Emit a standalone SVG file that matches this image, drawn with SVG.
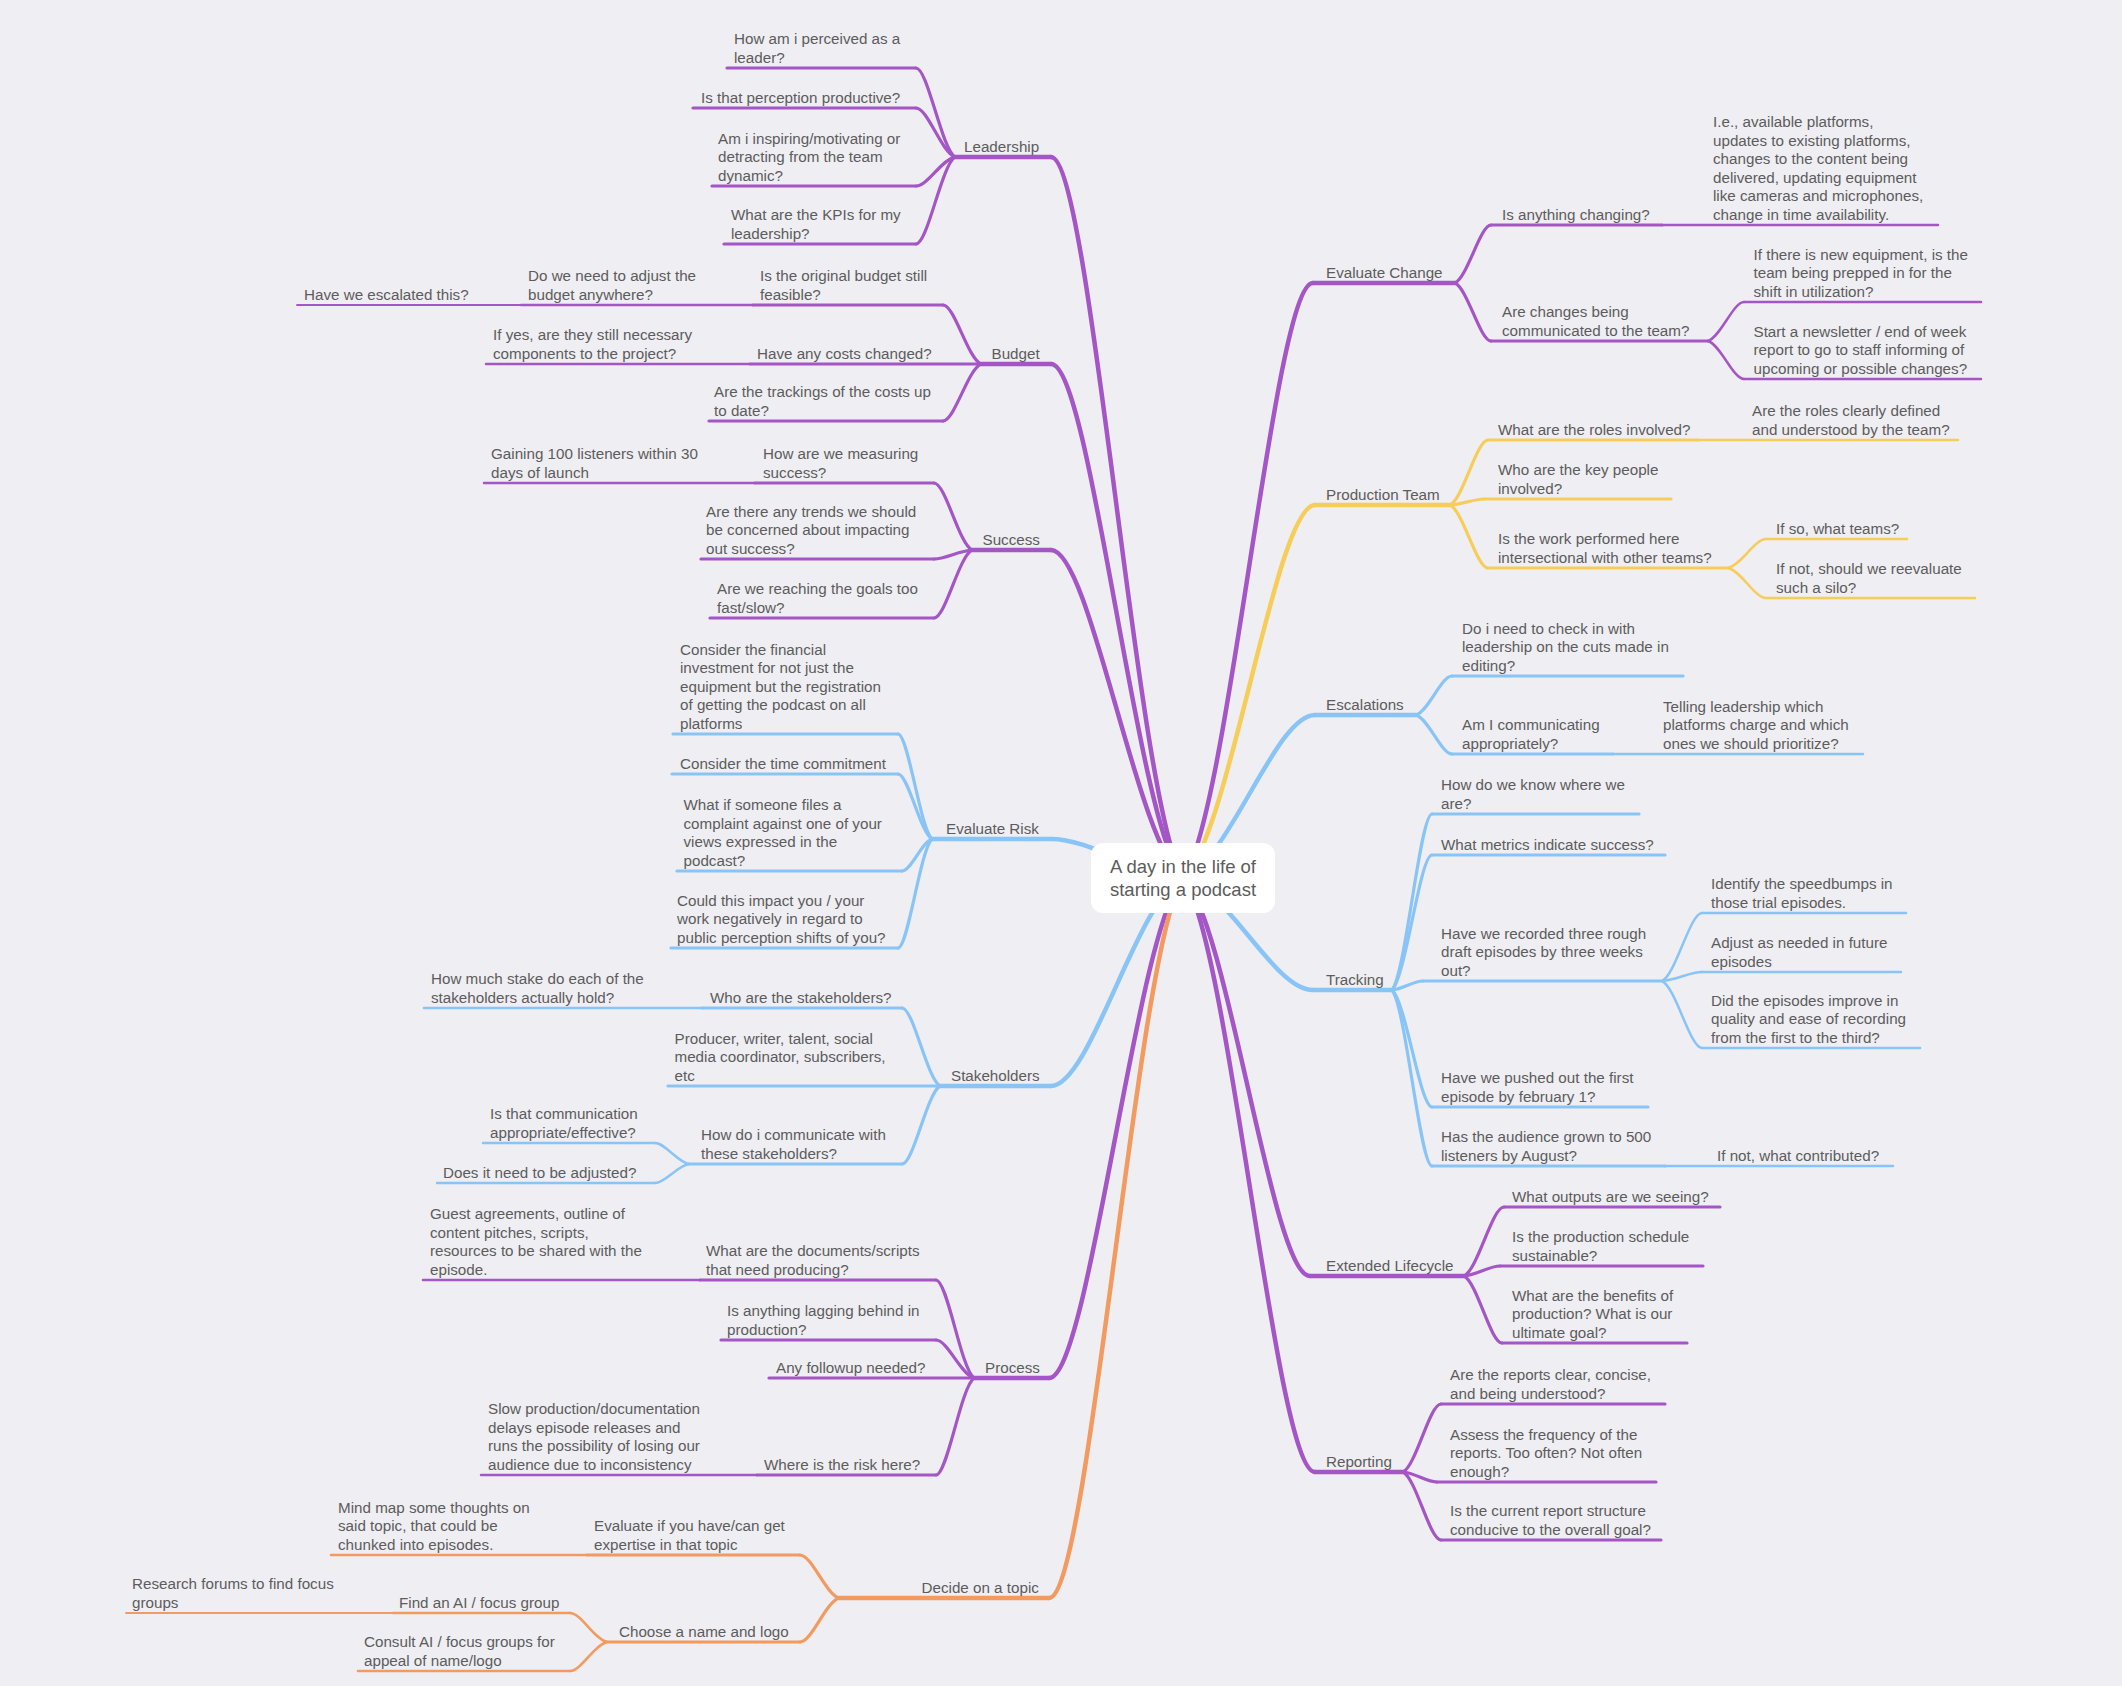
<svg xmlns="http://www.w3.org/2000/svg" width="2122" height="1686" viewBox="0 0 2122 1686">
<style>
text{font-family:"Liberation Sans",Arial,sans-serif;font-size:15.2px;fill:#5c5c5c}
.ct{font-size:18.5px;text-anchor:middle}
path{fill:none;stroke-linecap:round;stroke-linejoin:round}
.p{stroke:#a455c6}.b{stroke:#89c4f7}.y{stroke:#f7cd5a}.o{stroke:#f29a5f}
.w1{stroke-width:4.5}.w2{stroke-width:3.2}.w3{stroke-width:2.5}.w4{stroke-width:1.8}
</style>
<rect width="2122" height="1686" fill="#efeef3"/>
<g id="connectors">
<path class="p w1" d="M1183 878c-46.2 -72.1 -92.4 -721 -132 -721"/>
<path class="p w1" d="M1183 878c-46.2 -51.4 -92.4 -514 -132 -514"/>
<path class="p w1" d="M1183 878c-46.2 -32.8 -92.4 -328 -132 -328"/>
<path class="b w1" d="M1183 878c-46.2 -3.9 -92.4 -39 -132 -39"/>
<path class="b w1" d="M1183 878c-46.2 20.8 -92.4 208 -132 208"/>
<path class="p w1" d="M1183 878c-46.9 50 -93.8 500 -134 500"/>
<path class="o w1" d="M1183 878c-46.9 72 -93.8 720 -134 720"/>
<path class="p w1" d="M1183 878c45.5 -59.5 91 -595 130 -595"/>
<path class="y w1" d="M1183 878c46.2 -37.3 92.4 -373 132 -373"/>
<path class="b w1" d="M1183 878c46.2 -16.3 92.4 -163 132 -163"/>
<path class="b w1" d="M1183 878c45.5 11.2 91 112 130 112"/>
<path class="p w1" d="M1183 878c44.45 39.8 88.9 398 127 398"/>
<path class="p w1" d="M1183 878c46.2 59.4 92.4 594 132 594"/>
<path class="p w2" d="M955 157c-13.65 -8.9 -27.3 -89 -39 -89"/>
<path class="p w2" d="M955 157c-13.65 -4.9 -27.3 -49 -39 -49"/>
<path class="p w2" d="M955 157c-13.65 2.9 -27.3 29 -39 29"/>
<path class="p w2" d="M955 157c-13.65 8.7 -27.3 87 -39 87"/>
<path class="p w2" d="M981 364c-13.3 -5.9 -26.6 -59 -38 -59"/>
<path class="p w2" d="M981 364c-13.3 5.7 -26.6 57 -38 57"/>
<path class="p w2" d="M972 550c-13.3 -6.7 -26.6 -67 -38 -67"/>
<path class="p w2" d="M972 550c-13.3 0.9 -26.6 9 -38 9"/>
<path class="p w2" d="M972 550c-13.3 6.8 -26.6 68 -38 68"/>
<path class="b w2" d="M932 839c-11.9 -10.5 -23.8 -105 -34 -105"/>
<path class="b w2" d="M932 839c-11.9 -6.5 -23.8 -65 -34 -65"/>
<path class="b w2" d="M932 839c-10.5 3.2 -21 32 -30 32"/>
<path class="b w2" d="M932 839c-11.9 10.9 -23.8 109 -34 109"/>
<path class="b w2" d="M940 1086c-13.3 -7.8 -26.6 -78 -38 -78"/>
<path class="b w2" d="M940 1086c-13.3 7.8 -26.6 78 -38 78"/>
<path class="b w3" d="M689 1164c-11.9 -2.1 -23.8 -21 -34 -21"/>
<path class="b w3" d="M689 1164c-11.9 1.9 -23.8 19 -34 19"/>
<path class="p w2" d="M974 1378c-13.3 -9.8 -26.6 -98 -38 -98"/>
<path class="p w2" d="M974 1378c-13.3 -3.8 -26.6 -38 -38 -38"/>
<path class="p w2" d="M974 1378c-13.3 9.7 -26.6 97 -38 97"/>
<path class="o w2" d="M839 1598c-13.65 -4.3 -27.3 -43 -39 -43"/>
<path class="o w2" d="M839 1598c-13.65 4.4 -27.3 44 -39 44"/>
<path class="o w3" d="M607 1642c-12.95 -2.9 -25.9 -29 -37 -29"/>
<path class="o w3" d="M607 1642c-12.95 2.9 -25.9 29 -37 29"/>
<path class="p w2" d="M1455 283c12.6 -5.8 25.2 -58 36 -58"/>
<path class="p w2" d="M1455 283c12.6 5.8 25.2 58 36 58"/>
<path class="p w3" d="M1708 341c12.6 -3.9 25.2 -39 36 -39"/>
<path class="p w3" d="M1708 341c12.6 3.8 25.2 38 36 38"/>
<path class="y w2" d="M1450 505c13.3 -6.5 26.6 -65 38 -65"/>
<path class="y w2" d="M1450 505c11.9 -0.6 23.8 -6 34 -6"/>
<path class="y w2" d="M1450 505c13.3 6.3 26.6 63 38 63"/>
<path class="y w3" d="M1728 568c13.3 -2.9 26.6 -29 38 -29"/>
<path class="y w3" d="M1728 568c13.3 3 26.6 30 38 30"/>
<path class="b w2" d="M1416 715c12.6 -3.9 25.2 -39 36 -39"/>
<path class="b w2" d="M1416 715c12.6 3.9 25.2 39 36 39"/>
<path class="b w2" d="M1392 990c14 -17.6 28 -176 40 -176"/>
<path class="b w2" d="M1392 990c14 -13.5 28 -135 40 -135"/>
<path class="b w2" d="M1392 990c10.85 -0.9 21.7 -9 31 -9"/>
<path class="b w2" d="M1392 990c14 11.7 28 117 40 117"/>
<path class="b w2" d="M1392 990c14 17.6 28 176 40 176"/>
<path class="b w3" d="M1662 981c14 -6.8 28 -68 40 -68"/>
<path class="b w3" d="M1662 981c14 -0.9 28 -9 40 -9"/>
<path class="b w3" d="M1662 981c14 6.7 28 67 40 67"/>
<path class="p w2" d="M1464 1276c14 -6.9 28 -69 40 -69"/>
<path class="p w2" d="M1464 1276c12.6 -1 25.2 -10 36 -10"/>
<path class="p w2" d="M1464 1276c13.3 6.7 26.6 67 38 67"/>
<path class="p w2" d="M1403 1472c13.3 -6.8 26.6 -68 38 -68"/>
<path class="p w2" d="M1403 1472c11.9 1 23.8 10 34 10"/>
<path class="p w2" d="M1403 1472c13.3 6.8 26.6 68 38 68"/>
</g>
<g id="center">
<rect x="1091" y="843" width="184" height="70" rx="12" fill="#ffffff"/>
<text class="ct"><tspan x="1183" y="873">A day in the life of</tspan><tspan x="1183" y="896">starting a podcast</tspan></text>
</g>
<g id="leadership"><path class="p w1" d="M955 157H1051"/><text x="964" y="151.5">Leadership</text></g>
<g id="l1"><path class="p w2" d="M727 68H916"/><text><tspan x="734" y="44">How am i perceived as a</tspan><tspan x="734" y="62.5">leader?</tspan></text></g>
<g id="l2"><path class="p w2" d="M693 108H916"/><text x="701" y="102.5">Is that perception productive?</text></g>
<g id="l3"><path class="p w2" d="M712 186H916"/><text><tspan x="718" y="143.5">Am i inspiring/motivating or</tspan><tspan x="718" y="162">detracting from the team</tspan><tspan x="718" y="180.5">dynamic?</tspan></text></g>
<g id="l4"><path class="p w2" d="M724 244H916"/><text><tspan x="731" y="220">What are the KPIs for my</tspan><tspan x="731" y="238.5">leadership?</tspan></text></g>
<g id="budget"><path class="p w1" d="M981 364H1051"/><text x="991.5" y="358.5">Budget</text></g>
<g id="b1"><path class="p w2" d="M753 305H943"/><text><tspan x="760" y="281">Is the original budget still</tspan><tspan x="760" y="299.5">feasible?</tspan></text></g>
<g id="b1a"><path class="p w3" d="M521 305H753"/><text><tspan x="528" y="281">Do we need to adjust the</tspan><tspan x="528" y="299.5">budget anywhere?</tspan></text></g>
<g id="b1a1"><path class="p w4" d="M297 305H521"/><text x="304" y="299.5">Have we escalated this?</text></g>
<g id="b2"><path class="p w2" d="M750 364H981"/><text x="757" y="358.5">Have any costs changed?</text></g>
<g id="b2a"><path class="p w3" d="M486 364H750"/><text><tspan x="493" y="340">If yes, are they still necessary</tspan><tspan x="493" y="358.5">components to the project?</tspan></text></g>
<g id="b3"><path class="p w2" d="M709 421H943"/><text><tspan x="714" y="397">Are the trackings of the costs up</tspan><tspan x="714" y="415.5">to date?</tspan></text></g>
<g id="success"><path class="p w1" d="M972 550H1051"/><text x="982.5" y="544.5">Success</text></g>
<g id="s1"><path class="p w2" d="M755 483H934"/><text><tspan x="763" y="459">How are we measuring</tspan><tspan x="763" y="477.5">success?</tspan></text></g>
<g id="s1a"><path class="p w3" d="M484 483H755"/><text><tspan x="491" y="459">Gaining 100 listeners within 30</tspan><tspan x="491" y="477.5">days of launch</tspan></text></g>
<g id="s2"><path class="p w2" d="M701 559H934"/><text><tspan x="706" y="516.5">Are there any trends we should</tspan><tspan x="706" y="535">be concerned about impacting</tspan><tspan x="706" y="553.5">out success?</tspan></text></g>
<g id="s3"><path class="p w2" d="M710 618H934"/><text><tspan x="717" y="594">Are we reaching the goals too</tspan><tspan x="717" y="612.5">fast/slow?</tspan></text></g>
<g id="risk"><path class="b w1" d="M932 839H1051"/><text x="946" y="833.5">Evaluate Risk</text></g>
<g id="r1"><path class="b w2" d="M673 734H898"/><text><tspan x="680" y="654.5">Consider the financial</tspan><tspan x="680" y="673">investment for not just the</tspan><tspan x="680" y="691.5">equipment but the registration</tspan><tspan x="680" y="710">of getting the podcast on all</tspan><tspan x="680" y="728.5">platforms</tspan></text></g>
<g id="r2"><path class="b w2" d="M672 774H898"/><text x="680" y="768.5">Consider the time commitment</text></g>
<g id="r3"><path class="b w2" d="M677 871H902"/><text><tspan x="683.5" y="810">What if someone files a</tspan><tspan x="683.5" y="828.5">complaint against one of your</tspan><tspan x="683.5" y="847">views expressed in the</tspan><tspan x="683.5" y="865.5">podcast?</tspan></text></g>
<g id="r4"><path class="b w2" d="M671 948H898"/><text><tspan x="677" y="905.5">Could this impact you / your</tspan><tspan x="677" y="924">work negatively in regard to</tspan><tspan x="677" y="942.5">public perception shifts of you?</tspan></text></g>
<g id="stakeholders"><path class="b w1" d="M940 1086H1051"/><text x="951" y="1080.5">Stakeholders</text></g>
<g id="k1"><path class="b w2" d="M702 1008H902"/><text x="710" y="1002.5">Who are the stakeholders?</text></g>
<g id="k1a"><path class="b w3" d="M424 1008H702"/><text><tspan x="431" y="984">How much stake do each of the</tspan><tspan x="431" y="1002.5">stakeholders actually hold?</tspan></text></g>
<g id="k2"><path class="b w2" d="M668 1086H940"/><text><tspan x="674.5" y="1043.5">Producer, writer, talent, social</tspan><tspan x="674.5" y="1062">media coordinator, subscribers,</tspan><tspan x="674.5" y="1080.5">etc</tspan></text></g>
<g id="k3"><path class="b w2" d="M689 1164H902"/><text><tspan x="701" y="1140">How do i communicate with</tspan><tspan x="701" y="1158.5">these stakeholders?</tspan></text></g>
<g id="k3a"><path class="b w3" d="M483 1143H655"/><text><tspan x="490" y="1119">Is that communication</tspan><tspan x="490" y="1137.5">appropriate/effective?</tspan></text></g>
<g id="k3b"><path class="b w3" d="M437 1183H655"/><text x="443" y="1177.5">Does it need to be adjusted?</text></g>
<g id="process"><path class="p w1" d="M974 1378H1049"/><text x="985" y="1372.5">Process</text></g>
<g id="p1"><path class="p w2" d="M700 1280H936"/><text><tspan x="706" y="1256">What are the documents/scripts</tspan><tspan x="706" y="1274.5">that need producing?</tspan></text></g>
<g id="p1a"><path class="p w3" d="M423 1280H700"/><text><tspan x="430" y="1219">Guest agreements, outline of</tspan><tspan x="430" y="1237.5">content pitches, scripts,</tspan><tspan x="430" y="1256">resources to be shared with the</tspan><tspan x="430" y="1274.5">episode.</tspan></text></g>
<g id="p2"><path class="p w2" d="M721 1340H936"/><text><tspan x="727" y="1316">Is anything lagging behind in</tspan><tspan x="727" y="1334.5">production?</tspan></text></g>
<g id="p3"><path class="p w2" d="M769 1378H974"/><text x="776" y="1372.5">Any followup needed?</text></g>
<g id="p4"><path class="p w2" d="M757 1475H936"/><text x="764" y="1469.5">Where is the risk here?</text></g>
<g id="p4a"><path class="p w3" d="M481 1475H757"/><text><tspan x="488" y="1414">Slow production/documentation</tspan><tspan x="488" y="1432.5">delays episode releases and</tspan><tspan x="488" y="1451">runs the possibility of losing our</tspan><tspan x="488" y="1469.5">audience due to inconsistency</tspan></text></g>
<g id="topic"><path class="o w1" d="M839 1598H1049"/><text x="921.5" y="1592.5">Decide on a topic</text></g>
<g id="d1"><path class="o w2" d="M587 1555H800"/><text><tspan x="594" y="1531">Evaluate if you have/can get</tspan><tspan x="594" y="1549.5">expertise in that topic</tspan></text></g>
<g id="d1a"><path class="o w3" d="M331 1555H587"/><text><tspan x="338" y="1512.5">Mind map some thoughts on</tspan><tspan x="338" y="1531">said topic, that could be</tspan><tspan x="338" y="1549.5">chunked into episodes.</tspan></text></g>
<g id="d2"><path class="o w2" d="M607 1642H800"/><text x="619" y="1636.5">Choose a name and logo</text></g>
<g id="d2a"><path class="o w3" d="M393 1613H570"/><text x="399" y="1607.5">Find an AI / focus group</text></g>
<g id="d2a1"><path class="o w4" d="M126 1613H393"/><text><tspan x="132" y="1589">Research forums to find focus</tspan><tspan x="132" y="1607.5">groups</tspan></text></g>
<g id="d2b"><path class="o w3" d="M358 1671H570"/><text><tspan x="364" y="1647">Consult AI / focus groups for</tspan><tspan x="364" y="1665.5">appeal of name/logo</tspan></text></g>
<g id="change"><path class="p w1" d="M1313 283H1455"/><text x="1326" y="277.5">Evaluate Change</text></g>
<g id="c1"><path class="p w2" d="M1491 225H1662"/><text x="1502" y="219.5">Is anything changing?</text></g>
<g id="c1a"><path class="p w3" d="M1662 225H1938"/><text><tspan x="1713" y="127">I.e., available platforms,</tspan><tspan x="1713" y="145.5">updates to existing platforms,</tspan><tspan x="1713" y="164">changes to the content being</tspan><tspan x="1713" y="182.5">delivered, updating equipment</tspan><tspan x="1713" y="201">like cameras and microphones,</tspan><tspan x="1713" y="219.5">change in time availability.</tspan></text></g>
<g id="c2"><path class="p w2" d="M1491 341H1708"/><text><tspan x="1502" y="317">Are changes being</tspan><tspan x="1502" y="335.5">communicated to the team?</tspan></text></g>
<g id="c2a"><path class="p w3" d="M1744 302H1981"/><text><tspan x="1753.5" y="259.5">If there is new equipment, is the</tspan><tspan x="1753.5" y="278">team being prepped in for the</tspan><tspan x="1753.5" y="296.5">shift in utilization?</tspan></text></g>
<g id="c2b"><path class="p w3" d="M1744 379H1981"/><text><tspan x="1753.5" y="336.5">Start a newsletter / end of week</tspan><tspan x="1753.5" y="355">report to go to staff informing of</tspan><tspan x="1753.5" y="373.5">upcoming or possible changes?</tspan></text></g>
<g id="team"><path class="y w1" d="M1315 505H1450"/><text x="1326" y="499.5">Production Team</text></g>
<g id="t1"><path class="y w2" d="M1488 440H1698"/><text x="1498" y="434.5">What are the roles involved?</text></g>
<g id="t1a"><path class="y w3" d="M1698 440H1958"/><text><tspan x="1752" y="416">Are the roles clearly defined</tspan><tspan x="1752" y="434.5">and understood by the team?</tspan></text></g>
<g id="t2"><path class="y w2" d="M1484 499H1671"/><text><tspan x="1498" y="475">Who are the key people</tspan><tspan x="1498" y="493.5">involved?</tspan></text></g>
<g id="t3"><path class="y w2" d="M1488 568H1728"/><text><tspan x="1498" y="544">Is the work performed here</tspan><tspan x="1498" y="562.5">intersectional with other teams?</tspan></text></g>
<g id="t3a"><path class="y w3" d="M1766 539H1907"/><text x="1776" y="533.5">If so, what teams?</text></g>
<g id="t3b"><path class="y w3" d="M1766 598H1975"/><text><tspan x="1776" y="574">If not, should we reevaluate</tspan><tspan x="1776" y="592.5">such a silo?</tspan></text></g>
<g id="escalations"><path class="b w1" d="M1315 715H1416"/><text x="1326" y="709.5">Escalations</text></g>
<g id="e1"><path class="b w2" d="M1452 676H1683"/><text><tspan x="1462" y="633.5">Do i need to check in with</tspan><tspan x="1462" y="652">leadership on the cuts made in</tspan><tspan x="1462" y="670.5">editing?</tspan></text></g>
<g id="e2"><path class="b w2" d="M1452 754H1613"/><text><tspan x="1462" y="730">Am I communicating</tspan><tspan x="1462" y="748.5">appropriately?</tspan></text></g>
<g id="e2a"><path class="b w3" d="M1613 754H1863"/><text><tspan x="1663" y="711.5">Telling leadership which</tspan><tspan x="1663" y="730">platforms charge and which</tspan><tspan x="1663" y="748.5">ones we should prioritize?</tspan></text></g>
<g id="tracking"><path class="b w1" d="M1313 990H1392"/><text x="1326" y="984.5">Tracking</text></g>
<g id="g1"><path class="b w2" d="M1432 814H1639"/><text><tspan x="1441" y="790">How do we know where we</tspan><tspan x="1441" y="808.5">are?</tspan></text></g>
<g id="g2"><path class="b w2" d="M1432 855H1665"/><text x="1441" y="849.5">What metrics indicate success?</text></g>
<g id="g3"><path class="b w2" d="M1423 981H1662"/><text><tspan x="1441" y="938.5">Have we recorded three rough</tspan><tspan x="1441" y="957">draft episodes by three weeks</tspan><tspan x="1441" y="975.5">out?</tspan></text></g>
<g id="g3a"><path class="b w3" d="M1702 913H1906"/><text><tspan x="1711" y="889">Identify the speedbumps in</tspan><tspan x="1711" y="907.5">those trial episodes.</tspan></text></g>
<g id="g3b"><path class="b w3" d="M1702 972H1901"/><text><tspan x="1711" y="948">Adjust as needed in future</tspan><tspan x="1711" y="966.5">episodes</tspan></text></g>
<g id="g3c"><path class="b w3" d="M1702 1048H1920"/><text><tspan x="1711" y="1005.5">Did the episodes improve in</tspan><tspan x="1711" y="1024">quality and ease of recording</tspan><tspan x="1711" y="1042.5">from the first to the third?</tspan></text></g>
<g id="g4"><path class="b w2" d="M1432 1107H1648"/><text><tspan x="1441" y="1083">Have we pushed out the first</tspan><tspan x="1441" y="1101.5">episode by february 1?</tspan></text></g>
<g id="g5"><path class="b w2" d="M1432 1166H1665"/><text><tspan x="1441" y="1142">Has the audience grown to 500</tspan><tspan x="1441" y="1160.5">listeners by August?</tspan></text></g>
<g id="g5a"><path class="b w3" d="M1665 1166H1893"/><text x="1717" y="1160.5">If not, what contributed?</text></g>
<g id="lifecycle"><path class="p w1" d="M1310 1276H1464"/><text x="1326" y="1270.5">Extended Lifecycle</text></g>
<g id="x1"><path class="p w2" d="M1504 1207H1720"/><text x="1512" y="1201.5">What outputs are we seeing?</text></g>
<g id="x2"><path class="p w2" d="M1500 1266H1703"/><text><tspan x="1512" y="1242">Is the production schedule</tspan><tspan x="1512" y="1260.5">sustainable?</tspan></text></g>
<g id="x3"><path class="p w2" d="M1502 1343H1687"/><text><tspan x="1512" y="1300.5">What are the benefits of</tspan><tspan x="1512" y="1319">production? What is our</tspan><tspan x="1512" y="1337.5">ultimate goal?</tspan></text></g>
<g id="reporting"><path class="p w1" d="M1315 1472H1403"/><text x="1326" y="1466.5">Reporting</text></g>
<g id="q1"><path class="p w2" d="M1441 1404H1665"/><text><tspan x="1450" y="1380">Are the reports clear, concise,</tspan><tspan x="1450" y="1398.5">and being understood?</tspan></text></g>
<g id="q2"><path class="p w2" d="M1437 1482H1656"/><text><tspan x="1450" y="1439.5">Assess the frequency of the</tspan><tspan x="1450" y="1458">reports. Too often? Not often</tspan><tspan x="1450" y="1476.5">enough?</tspan></text></g>
<g id="q3"><path class="p w2" d="M1441 1540H1661"/><text><tspan x="1450" y="1516">Is the current report structure</tspan><tspan x="1450" y="1534.5">conducive to the overall goal?</tspan></text></g>
</svg>
